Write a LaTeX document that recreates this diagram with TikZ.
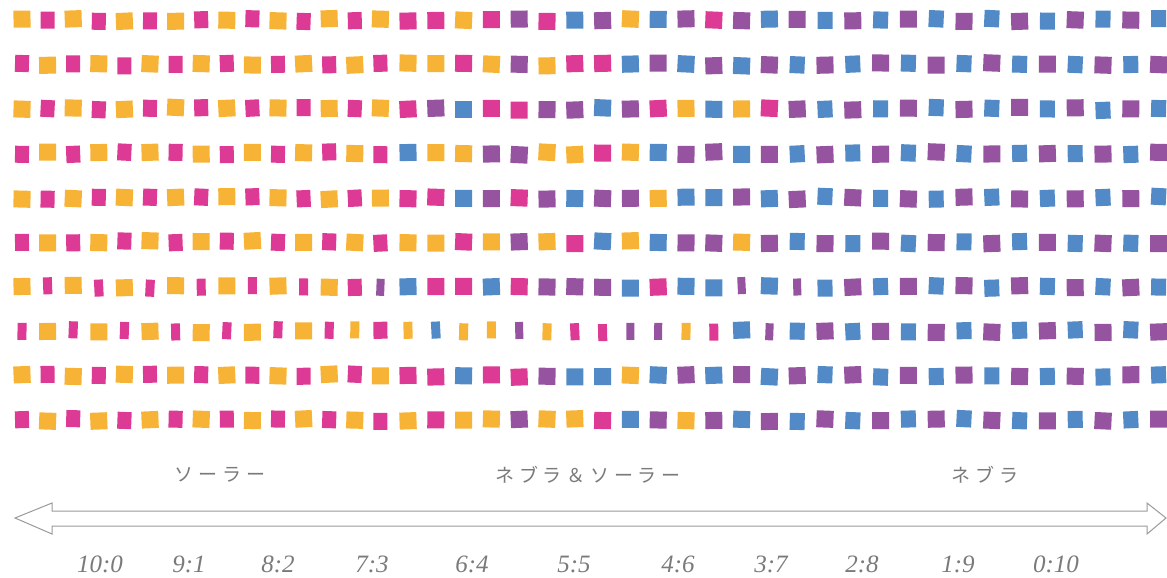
\documentclass[tikz,border=0pt]{standalone}
\usepackage{fontspec}
\newfontfamily\jafont[LetterSpace=25]{Noto Sans CJK JP}
\newfontfamily\ratiofont{Liberation Serif}
\usetikzlibrary{positioning}
\definecolor{sorange}{HTML}{F7B335}
\definecolor{spink}{HTML}{DC3A94}
\definecolor{spurple}{HTML}{9553A0}
\definecolor{sblue}{HTML}{528AC8}
\definecolor{sgray}{HTML}{7A7A7A}
\definecolor{sline}{HTML}{9A9A9A}

\begin{document}
\begin{tikzpicture}[x=1pt, y=-1pt]

\tikzstyle{sq} = [rectangle, inner sep=0pt, minimum height=17pt]
\tikzstyle{sqO} = [sq, fill=sorange, minimum width=17pt]
\tikzstyle{sqP} = [sq, fill=spink, minimum width=\pw pt]
\tikzstyle{sqU} = [sq, fill=spurple, minimum width=17pt]
\tikzstyle{sqB} = [sq, fill=sblue, minimum width=\bw pt]
\tikzstyle{sqo} = [sq, fill=sorange, minimum width=9pt]
\tikzstyle{sqp} = [sq, fill=spink, minimum width=9pt]
\tikzstyle{squ} = [sq, fill=spurple, minimum width=8pt]
\tikzstyle{sqb} = [sq, fill=sblue, minimum width=9pt]
\tikzstyle{jlabel} = [text=sgray, font=\jafont\fontsize{19}{22}\selectfont]
\tikzstyle{ratio} = [text=sgray, anchor=base, font=\ratiofont\itshape\fontsize{25}{28}\selectfont]
\tikzstyle{arrowline} = [draw=sline, line width=1pt, fill=white]

\useasboundingbox (0,0) rectangle (1167,578);
\pgfmathsetseed{42}

% Squares, one row per list
\foreach \row [count=\r from 0] in {
  {O,P,O,P,O,P,O,P,O,P,O,P,O,P,O, P,P,O,P,U,P,B,U,O,B,U,P,U,B, U,B,U,B,U,B,U,B,U,B,U,B,U,B},
  {P,O,P,O,P,O,P,O,P,O,P,O,P,O,P, O,O,P,O,U,O,P,P,B,U,B,U,B,U, B,U,B,U,B,U,B,U,B,U,B,U,B,U},
  {O,P,O,P,O,P,O,P,O,P,O,P,O,P,O, P,U,B,P,P,U,U,B,U,P,O,B,O,P, U,B,U,B,U,B,U,B,U,B,U,B,U,B},
  {P,O,P,O,P,O,P,O,P,O,P,O,P,O,P, B,O,O,U,U,O,O,P,O,B,U,U,B,U, B,U,B,U,B,U,B,U,B,U,B,U,B,U},
  {O,P,O,P,O,P,O,P,O,P,O,P,O,P,O, P,P,B,U,P,U,B,U,U,O,B,B,U,B, U,B,U,B,U,B,U,B,U,B,U,B,U,B},
  {P,O,P,O,P,O,P,O,P,O,P,O,P,O,P, O,O,P,O,U,O,P,B,O,B,U,U,O,U, B,U,B,U,B,U,B,U,B,U,B,U,B,U},
  {O,p,O,p,O,p,O,p,O,p,O,p,O,P,u, B,P,P,B,P,U,U,U,B,P,B,B,u,B, u,B,U,B,U,B,U,B,U,B,U,B,U,B},
  {p,O,p,O,p,O,p,O,p,O,p,O,p,o,P, o,b,o,o,u,o,p,p,u,u,o,p,B,u, B,U,B,U,B,U,B,U,B,U,B,U,B,U},
  {O,P,O,P,O,P,O,P,O,P,O,P,O,P,O, P,P,B,P,P,U,B,B,O,B,U,B,U,B, U,B,U,B,U,B,U,B,U,B,U,B,U,B},
  {P,O,P,O,P,O,P,O,P,O,P,O,P,O,P, O,P,O,O,U,O,O,P,B,U,O,U,B,U, B,U,B,U,B,U,B,U,B,U,B,U,B,U}} {
  \foreach \c [count=\i from 0] in \row {
    \pgfmathsetmacro{\xx}{\i<15 ? 22+25.6*\i : 408+27.8*(\i-15)}
    \pgfmathsetmacro{\pw}{\i<15 ? 14 : 17}
    \pgfmathsetmacro{\bw}{\i>28 ? 15 : 17}
    \pgfmathsetmacro{\rot}{rand*3}
    \pgfmathsetmacro{\dy}{rand*1.5}
    \node[sq\c, rotate=\rot] (s-\r-\i) at (\xx, {20+44.45*\r+\dy}) {};
  }
}

% Mix labels
\node[jlabel] (solar) at (220,475) {ソーラー};
\node[jlabel] (mix) at (588,475) {ネブラ＆ソーラー};
\node[jlabel] (nebula) at (985,475) {ネブラ};

% Scale arrow
\draw[arrowline] (15,518) -- (52,503) -- (52,511) -- (1147,511) -- (1147,503)
  -- (1166,518) -- (1147,534) -- (1147,526) -- (52,526) -- (52,534) -- cycle;

% Ratios
\foreach \x/\t [count=\k] in {100/10:0, 189/9:1, 278/8:2, 372/7:3, 472/6:4,
  574/5:5, 678/4:6, 771/3:7, 862/2:8, 958/1:9, 1056/0:10}
  \node[ratio] (ratio-\k) at (\x,572) {\t};

\end{tikzpicture}
\end{document}
